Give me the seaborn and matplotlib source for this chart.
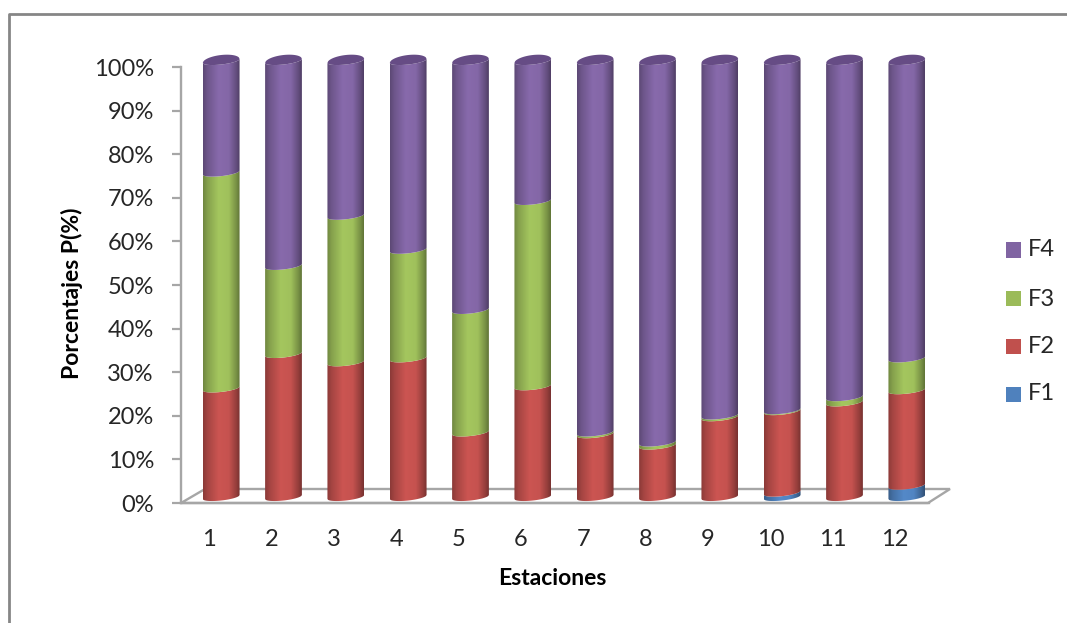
import numpy as np
import pandas as pd
import matplotlib
matplotlib.use("Agg")
import matplotlib.pyplot as plt
import seaborn as sns
from matplotlib.path import Path
from matplotlib.patches import PathPatch, Polygon, Rectangle
from matplotlib.lines import Line2D
from matplotlib.transforms import ScaledTranslation

# data
estaciones = ["1", "2", "3", "4", "5", "6", "7", "8", "9", "10", "11", "12"]
f1 = [0, 0, 0, 0, 0, 0, 0, 0, 0, 1.0, 0, 2.6]
f2 = [24.9, 32.8, 30.9, 31.8, 14.8, 25.4, 14.4, 11.8, 18.3, 18.7, 21.7, 21.9]
f3 = [49.5, 20.2, 33.6, 24.9, 28.1, 42.5, 0.4, 0.7, 0.4, 0.2, 1.2, 7.3]
f4 = [25.6, 47.0, 35.5, 43.3, 57.1, 32.1, 85.2, 87.5, 81.3, 80.1, 77.1, 68.2]
series = {"F1": f1, "F2": f2, "F3": f3, "F4": f4}
colores = {"F1": "#4f81bd", "F2": "#c0504d", "F3": "#9bbb59", "F4": "#8064a2"}
ticks_y = [0, 10, 20, 30, 40, 50, 60, 70, 80, 90, 100]

W, H = 1067, 623
GRIS = "#a6a6a6"
TEXTO = "#262626"

sns.set_theme(style="white")
plt.rcParams["font.family"] = ["Lato", "DejaVu Sans"]
fig = plt.figure(figsize=(W / 100, H / 100), dpi=100)


def caja(x0, y0, x1, y1):
    # pixel box (from top left) to figure fraction
    return [x0 / W, 1 - y1 / H, (x1 - x0) / W, (y1 - y0) / H]


# frame round the chart, only left and top are in the crop
fig.add_artist(Line2D([9 / W, 9 / W, 1], [0, 1 - 13.5 / H, 1 - 13.5 / H],
                      color="#868686", lw=2.0, transform=fig.transFigure))

# front axes with the ticks
ax = fig.add_axes(caja(181, 67, 929, 503))
ax.set_xlim(-0.5, 11.5)
ax.set_ylim(0, 100)
ax.patch.set_alpha(0)
for lado in ["top", "right"]:
    ax.spines[lado].set_visible(False)
for lado in ["left", "bottom"]:
    ax.spines[lado].set_color(GRIS)
    ax.spines[lado].set_linewidth(1.7)
ax.set_yticks(ticks_y)
ax.set_yticklabels([str(t) + "%" for t in ticks_y], fontsize=17, color=TEXTO)
ax.set_xticks(range(12))
ax.set_xticklabels(estaciones, fontsize=17, color=TEXTO)
ax.tick_params(axis="y", left=True, length=6.5, width=1.6, color=GRIS, pad=13)
ax.tick_params(axis="x", bottom=False, pad=13)
mover = ScaledTranslation(-2 / 72, 0, fig.dpi_scale_trans)
for t in ax.get_xticklabels():
    t.set_transform(t.get_transform() + mover)
ax.set_ylabel("Porcentajes P(%)", fontsize=16.5, fontweight="bold", color="black", va="center")
ax.set_xlabel("Estaciones", fontsize=16.5, fontweight="bold", color="black", va="center")
ax.yaxis.set_label_coords(-0.146, 0.48)
ax.xaxis.set_label_coords(0.497, -0.174)

# floor of the 3d box
ax.add_patch(Polygon([(0, 0), (24 / 748, 14 / 436), (769 / 748, 14 / 436), (747 / 748, 0)],
                     closed=True, fill=False, edgecolor=GRIS, lw=1.7,
                     transform=ax.transAxes, clip_on=False, zorder=1))

# bars sit in a second axes moved a bit inside the box
ax2 = fig.add_axes(caja(190, 61, 938, 497), zorder=3)
ax2.patch.set_alpha(0)

filas = []
for nombre, valores in series.items():
    for est, v in zip(estaciones, valores):
        filas.append({"estacion": est, "serie": nombre, "valor": v})
df = pd.DataFrame(filas)

base = np.zeros(12)
tramos = []
for nombre, valores in series.items():
    antes = len(ax2.patches)
    sns.barplot(data=df[df["serie"] == nombre], x="estacion", y="valor", order=estaciones,
                color=colores[nombre], saturation=1, width=0.59, bottom=base, errorbar=None, ax=ax2)
    for p in ax2.patches[antes:]:
        tramos.append((p, nombre))
    base = base + np.array(valores)

# cylinder look: dark at both sides, light in the middle-left
px_y = 100 / 436
u = np.linspace(-1, 1, 60)
inclina = 2 * u * px_y
combado = 3.5 * px_y * np.sqrt(1 - u ** 2)
combado_tapa = 6 * px_y * np.sqrt(1 - u ** 2)
luz = np.interp(np.linspace(-1, 1, 128), [-1, -0.75, -0.15, 0.4, 0.8, 1], [0.72, 0.86, 1.06, 1.03, 0.78, 0.62])
rgb_bar = {}
for nombre, c in colores.items():
    rgb = np.array(matplotlib.colors.to_rgb(c))
    rgb_bar[nombre] = np.clip(luz[None, :, None] * rgb[None, None, :], 0, 1)

for p, nombre in tramos:
    x0, y0, w, h = p.get_x(), p.get_y(), p.get_width(), p.get_height()
    p.set_visible(False)
    if h <= 0:
        continue
    xs = x0 + w * (u + 1) / 2
    abajo = y0 + inclina - combado
    arriba = y0 + h + inclina - combado
    verts = np.vstack([np.column_stack([xs, abajo]), np.column_stack([xs[::-1], arriba[::-1]])])
    forma = PathPatch(Path(np.vstack([verts, verts[0]]), closed=True), transform=ax2.transData,
                      facecolor="none", edgecolor="none", clip_on=False)
    ax2.add_patch(forma)
    im = ax2.imshow(rgb_bar[nombre], extent=(x0, x0 + w, y0 - 3, y0 + h + 3), aspect="auto", zorder=2)
    im.set_clip_path(forma)
    im.set_clip_box(fig.bbox)

# top caps on the F4 bars
for p, nombre in tramos:
    if nombre != "F4":
        continue
    tope = p.get_y() + p.get_height()
    xs = p.get_x() + p.get_width() * (u + 1) / 2
    tapa = np.vstack([np.column_stack([xs, tope + inclina - combado]),
                      np.column_stack([xs[::-1], (tope + inclina + combado_tapa)[::-1]])])
    ax2.add_patch(Polygon(tapa, closed=True, facecolor="#664c85", edgecolor="none", zorder=4, clip_on=False))

ax2.set_xlim(-0.5, 11.5)
ax2.set_ylim(0, 100)
ax2.axis("off")

# legend
pos = {"F4": 250, "F3": 299, "F2": 346.5, "F1": 394}
for nombre in ["F4", "F3", "F2", "F1"]:
    y = pos[nombre]
    fig.add_artist(Rectangle((1006 / W, 1 - (y + 7.5) / H), 15 / W, 15 / H, transform=fig.transFigure,
                             facecolor=colores[nombre], edgecolor="none"))
    fig.text(1028 / W, 1 - y / H, nombre, fontsize=17, color=TEXTO, va="center", ha="left")

fig.savefig("out.png", dpi=100)
